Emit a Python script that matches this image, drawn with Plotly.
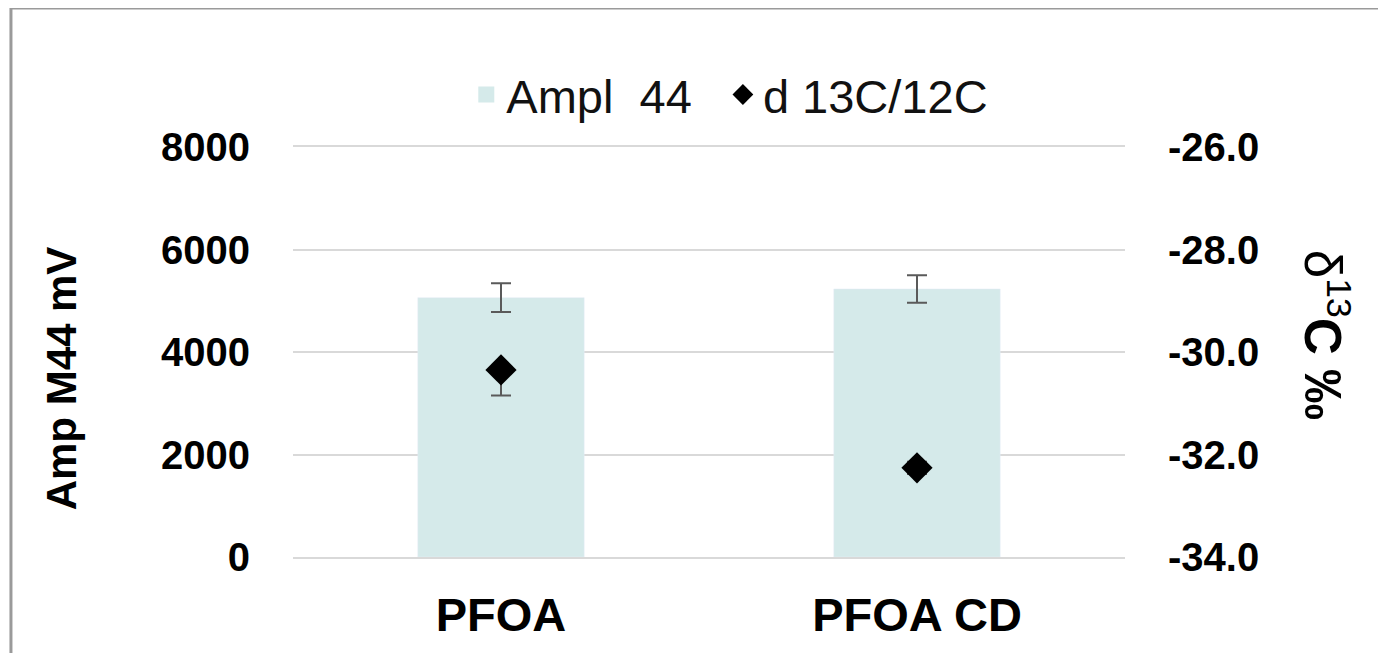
import plotly.graph_objects as go

categories = ["PFOA", "PFOA CD"]
ampl_44 = [5060, 5230]
ampl_44_err = [280, 270]
d13c = [-30.35, -32.26]
d13c_err_plus = [0.0, 0.12]
d13c_err_minus = [0.5, 0.12]

left_ticks = [0, 2000, 4000, 6000, 8000]
right_ticks = [-34, -32, -30, -28, -26]

BAR = "#d5eaea"
GRID = "#d9d9d9"
FONT = "Arial, Liberation Sans, sans-serif"

fig = go.Figure()
fig.add_trace(go.Bar(
    x=categories, y=ampl_44, name="Ampl  44", marker_color=BAR,
    showlegend=False, yaxis="y",
    error_y=dict(type="data", array=ampl_44_err, color="#5a5a5a",
                 thickness=2, width=10),
))
fig.add_trace(go.Scatter(
    x=categories, y=d13c, mode="markers", name="d 13C/12C", yaxis="y2",
    showlegend=False,
    marker=dict(symbol="diamond", size=24, color="black"),
    error_y=dict(type="data", symmetric=False, array=d13c_err_plus,
                 arrayminus=d13c_err_minus, color="#5a5a5a",
                 thickness=2, width=10),
))
# legend entries
fig.add_trace(go.Scatter(
    x=[None], y=[None], mode="markers", name="Ampl\u00a0 44\u00a0\u00a0",
    marker=dict(symbol="square", size=16, color=BAR),
))
fig.add_trace(go.Scatter(
    x=[None], y=[None], mode="markers", name="d 13C/12C",
    marker=dict(symbol="diamond", size=16, color="black"),
))

fig.update_layout(
    width=1378, height=645,
    margin=dict(l=285, r=261, t=139, b=96, autoexpand=False),
    paper_bgcolor="white", plot_bgcolor="white",
    font=dict(family=FONT, color="black"),
    bargap=0.6,
    showlegend=True,
    legend=dict(orientation="h", x=0.525, y=1.127, xanchor="center",
                yanchor="middle", font=dict(size=47, color="#111"),
                itemwidth=30, tracegroupgap=0, bgcolor="rgba(0,0,0,0)"),
    xaxis=dict(showgrid=False, showline=True, mirror=True,
               linecolor=GRID, linewidth=2, zeroline=False, automargin=False,
               tickfont=dict(size=47, family=FONT, weight="bold"),
               ticklabelstandoff=16),
    yaxis=dict(range=[0, 8000], tickvals=left_ticks,
               ticktext=[str(v) for v in left_ticks], automargin=False,
               showgrid=True, gridcolor=GRID, gridwidth=2,
               zeroline=False, showline=False,
               tickfont=dict(size=40, family=FONT, weight="bold"),
               ticklabelstandoff=42),
    yaxis2=dict(range=[-34, -26], tickvals=right_ticks,
                ticktext=[f"{v:.1f}" for v in right_ticks], automargin=False,
                overlaying="y", side="right", showgrid=False,
                zeroline=False, showline=False,
                tickfont=dict(size=40, family=FONT, weight="bold"),
                ticklabelstandoff=42),
    annotations=[
        dict(text="<b>Amp M44 mV</b>", textangle=-90, xref="paper",
             yref="paper", x=-0.278, y=0.435, xanchor="center",
             yanchor="middle", showarrow=False,
             font=dict(size=42, family=FONT, color="black")),
        dict(text="δ<sup>13</sup><b>C ‰</b>", textangle=90, xref="paper",
             yref="paper", x=1.242, y=0.541, xanchor="center",
             yanchor="middle", showarrow=False,
             font=dict(size=51, family=FONT, color="black")),
    ],
    shapes=[
        dict(type="rect", xref="paper", yref="paper",
             x0=-0.339, x1=1.6, y0=-0.6, y1=1.339,
             line=dict(color="#9a9a9a", width=3), layer="below"),
    ],
)

fig.write_html("out.html")
